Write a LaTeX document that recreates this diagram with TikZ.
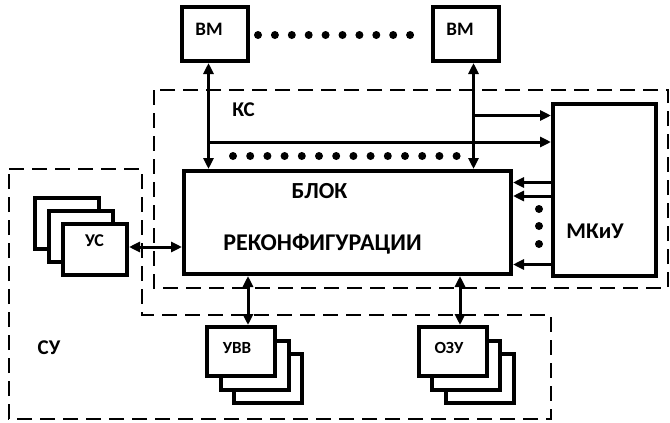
\documentclass[tikz,border=0pt]{standalone}
\usepackage{fontspec}
\setmainfont{Carlito}
\usetikzlibrary{arrows.meta}

\tikzset{
  blk/.style={draw, line width=4pt, fill=white, inner sep=0pt},
  grp/.style={line width=2pt, dash pattern=on 15pt off 8pt},
  lnk/.style={line width=3pt, -{Triangle[length=11pt,width=10pt]}},
  dlnk/.style={line width=3pt,
    {Triangle[length=11pt,width=10pt]}-{Triangle[length=11pt,width=10pt]}},
  lbl/.style={inner sep=0pt, font=\bfseries},
}

\begin{document}
\begin{tikzpicture}[x=1pt, y=-1pt]
  \useasboundingbox (0,0) rectangle (670,423);

  % groups
  \draw[grp] (154,90) rectangle (668,288);
  \draw[grp] (9,169) -- (142,169) -- (142,315) -- (551,315)
    -- (551,419) -- (9,419) -- cycle;
  \node[lbl, font=\bfseries\fontsize{21}{23}\selectfont] (ks) at (243.5,110) {КС};
  \node[lbl, font=\bfseries\fontsize{21}{23}\selectfont] (su) at (49,348) {СУ};

  % computers
  \node[blk, minimum width=66pt, minimum height=54pt] (vm1) at (215,34) {};
  \node[blk, minimum width=66pt, minimum height=54pt] (vm2) at (466,34) {};
  \node[lbl, font=\bfseries\fontsize{19}{21}\selectfont] (vm1l) at (209,29) {ВМ};
  \node[lbl, font=\bfseries\fontsize{19}{21}\selectfont] (vm2l) at (460,29) {ВМ};

  % reconfiguration unit
  \node[blk, minimum width=327pt, minimum height=103pt] (blok) at (347.5,222.5) {};
  \node[lbl, font=\bfseries\fontsize{23}{25}\selectfont] (blok1) at (319.5,191.5) {БЛОК};
  \node[lbl, font=\bfseries\fontsize{24}{26}\selectfont] (blok2) at (322.5,244.5) {РЕКОНФИГУРАЦИИ};

  \node[blk, minimum width=103pt, minimum height=172pt] (mk) at (604.5,190) {};
  \node[lbl, font=\bfseries\fontsize{22.5}{25}\selectfont] (mklbl) at (595,231.5) {МКиУ};

  % stacks
  \foreach \k in {2,1}
    \node[blk, minimum width=64pt, minimum height=51pt] (us\k)
      at ({95-14*\k},{249.5-13*\k}) {};
  \node[blk, minimum width=64pt, minimum height=51pt] (us) at (95,249.5) {};
  \node[lbl, font=\bfseries\fontsize{18}{20}\selectfont] (usl) at (94.5,241) {УС};

  \foreach \k in {2,1}
  {
    \node[blk, minimum width=68pt, minimum height=49pt] (uvv\k)
      at ({241+13.5*\k},{351.5+13.5*\k}) {};
    \node[blk, minimum width=68pt, minimum height=49pt] (ozu\k)
      at ({452.5+13.5*\k},{351.5+13.5*\k}) {};
  }
  \node[blk, minimum width=68pt, minimum height=49pt] (uvv) at (241,351.5) {};
  \node[blk, minimum width=68pt, minimum height=49pt] (ozu) at (452.5,351.5) {};
  \node[lbl, font=\bfseries\fontsize{17}{19}\selectfont] (uvvl) at (237,348) {УВВ};
  \node[lbl, font=\bfseries\fontsize{17}{19}\selectfont] (ozul) at (449,348) {ОЗУ};

  % links
  \coordinate (la) at (208.5,142);
  \coordinate (ra) at (473.5,115.5);
  \draw[dlnk] (vm1.south -| la) -- (blok.north -| la);
  \draw[dlnk] (vm2.south -| ra) -- (blok.north -| ra);
  \draw[lnk] (ra) -- (mk.west |- ra);
  \draw[lnk] (la) -- (mk.west |- la);
  \foreach \yy in {182.5,196,264.5}
    \draw[lnk] (mk.west |- 0,\yy) -- (blok.east |- 0,\yy);
  \draw[dlnk] (us.east |- 0,247) -- (blok.west |- 0,247);
  \draw[dlnk] (blok.south -| 248,0) -- (uvv.north -| 248,0);
  \draw[dlnk] (blok.south -| 460,0) -- (ozu.north -| 460,0);

  % dots
  \foreach \i in {0,...,9}
    \fill ({258+16.9*\i},35) circle (4pt);
  \foreach \i in {0,...,13}
    \fill ({233+17.2*\i},156) circle (4pt);
  \foreach \yy in {209,226,244}
    \fill (539,\yy) circle (4pt);
\end{tikzpicture}
\end{document}
